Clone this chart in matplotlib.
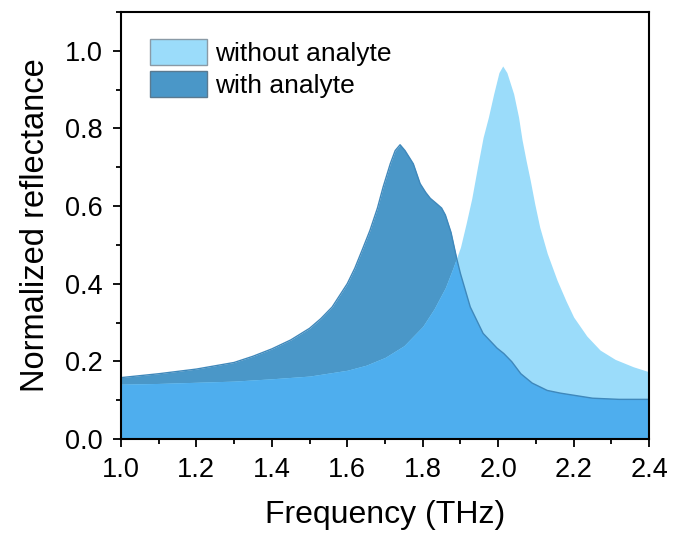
import matplotlib; matplotlib.use('Agg')
import matplotlib.pyplot as plt
from matplotlib.patches import Patch
from matplotlib.ticker import MultipleLocator

plt.rcParams['font.family'] = ['Liberation Sans', 'DejaVu Sans']

# ---- data ----
freq_without = [1.00, 1.10, 1.20, 1.30, 1.40, 1.50, 1.60, 1.65, 1.70, 1.75,
                1.80, 1.83, 1.86, 1.88, 1.90, 1.915, 1.93, 1.945, 1.96, 1.974,
                1.988, 2.002, 2.012, 2.023, 2.041, 2.054, 2.063, 2.074, 2.085, 2.097,
                2.11, 2.13, 2.156, 2.18, 2.20, 2.235, 2.27, 2.31, 2.358, 2.40]
refl_without = [0.141, 0.143, 0.146, 0.149, 0.155, 0.162, 0.177, 0.190, 0.210, 0.240,
                0.290, 0.335, 0.390, 0.440, 0.494, 0.555, 0.620, 0.700, 0.777, 0.829,
                0.889, 0.944, 0.961, 0.944, 0.889, 0.829, 0.772, 0.717, 0.666, 0.605,
                0.546, 0.478, 0.409, 0.355, 0.314, 0.265, 0.229, 0.205, 0.186, 0.173]

freq_with = [1.00, 1.10, 1.20, 1.30, 1.35, 1.40, 1.45, 1.50, 1.53, 1.56,
             1.60, 1.62, 1.64, 1.66, 1.68, 1.695, 1.714, 1.727, 1.74, 1.753,
             1.775, 1.793, 1.808, 1.82, 1.837, 1.85, 1.86, 1.875, 1.89, 1.90,
             1.926, 1.96, 1.997, 2.015, 2.036, 2.06, 2.09, 2.13, 2.165, 2.25,
             2.32, 2.40]
refl_with = [0.158, 0.168, 0.180, 0.197, 0.213, 0.232, 0.255, 0.285, 0.310, 0.340,
             0.400, 0.440, 0.488, 0.537, 0.595, 0.649, 0.709, 0.743, 0.758, 0.743,
             0.709, 0.658, 0.635, 0.620, 0.606, 0.595, 0.577, 0.532, 0.465, 0.426,
             0.340, 0.272, 0.234, 0.220, 0.199, 0.168, 0.144, 0.125, 0.118, 0.105,
             0.102, 0.102]

labels = ['without analyte', 'with analyte']
c_light = '#9bdcfa'
c_dark = '#4a97c8'
c_overlap = '#4eaeee'

# ---- plot ----
fig = plt.figure(figsize=(6.79, 5.34), dpi=100)
ax = fig.add_axes([0.178, 0.178, 0.778, 0.7995])

p_with = ax.fill_between(freq_with, refl_with, 0, color=c_dark, lw=0)
ax.plot(freq_with, refl_with, color='#3f88bb', lw=1.0)
ax.fill_between(freq_without, refl_without, 0, color=c_light, lw=0)
ov = ax.fill_between(freq_without, refl_without, 0, color=c_overlap, lw=0)
ov.set_clip_path(p_with.get_paths()[0], ax.transData)

ax.set_xlim(1.0, 2.4)
ax.set_ylim(0.0, 1.1)
ax.xaxis.set_minor_locator(MultipleLocator(0.1))
ax.yaxis.set_minor_locator(MultipleLocator(0.1))
ax.set_xticks([1.0, 1.2, 1.4, 1.6, 1.8, 2.0, 2.2, 2.4])
ax.set_xticklabels(['1.0', '1.2', '1.4', '1.6', '1.8', '2.0', '2.2', '2.4'])
ax.set_yticks([0.0, 0.2, 0.4, 0.6, 0.8, 1.0])
ax.set_yticklabels(['0.0', '0.2', '0.4', '0.6', '0.8', '1.0'])
ax.tick_params(which='both', direction='out', width=1.3, labelsize=19.5, pad=7)
ax.tick_params(which='major', length=6)
ax.tick_params(which='minor', length=3.5)
for s in ax.spines.values():
    s.set_linewidth(1.5)

ax.set_xlabel('Frequency (THz)', fontsize=23, labelpad=12)
ax.set_ylabel('Normalized reflectance', fontsize=23.5, labelpad=10)

handles = [Patch(facecolor=c_light, edgecolor='#8a9aa6', lw=1.0),
           Patch(facecolor=c_dark, edgecolor='#5a7a90', lw=1.0)]
ax.legend(handles, labels, loc='upper left', bbox_to_anchor=(0.055, 0.937),
          frameon=False, fontsize=19, handlelength=2.16, handleheight=1.15,
          labelspacing=0.2, handletextpad=0.3, borderaxespad=0, borderpad=0)

plt.savefig('out.png', dpi=100)
